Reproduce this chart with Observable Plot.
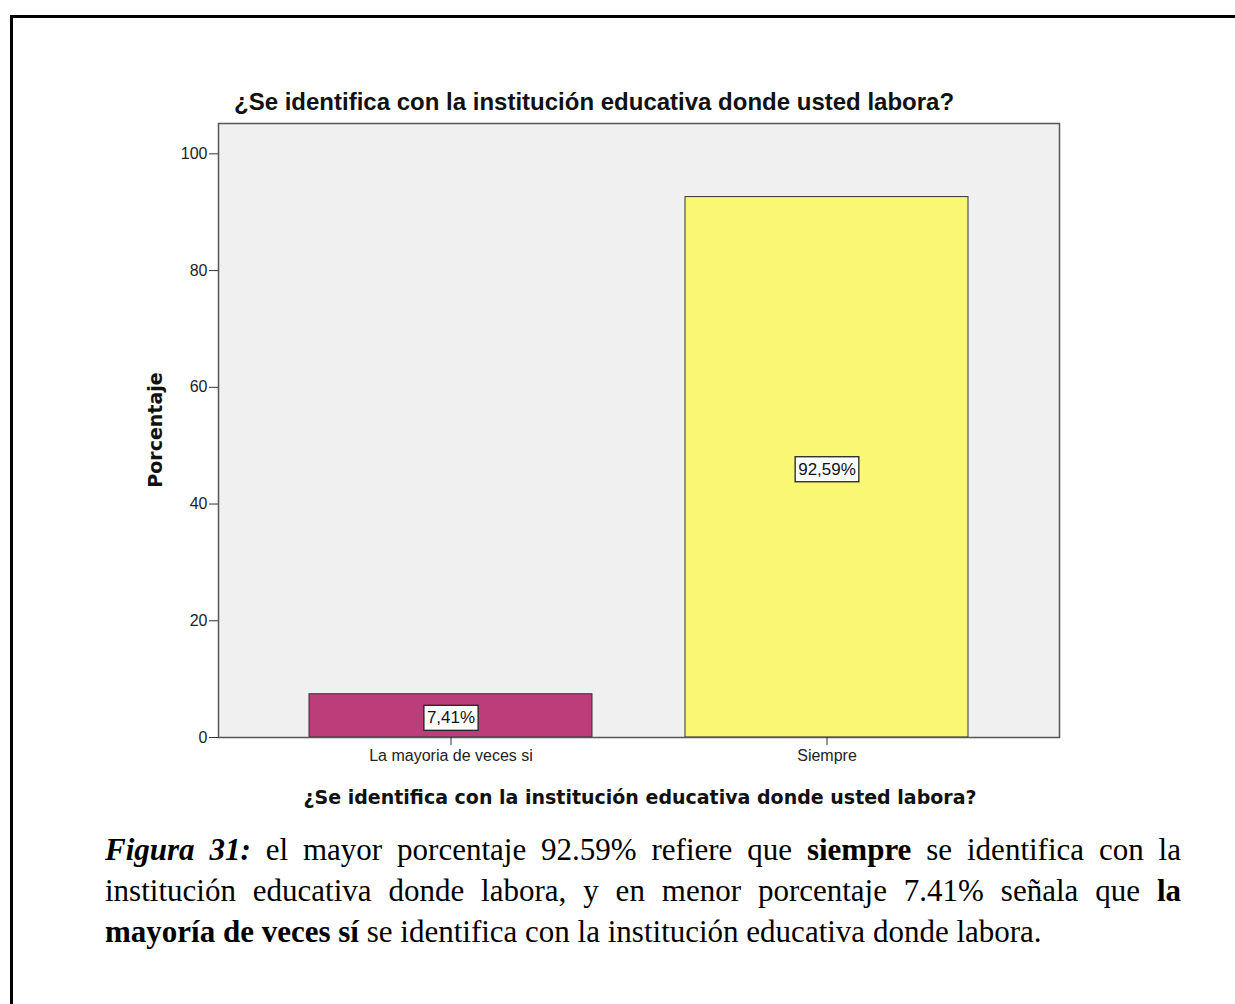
<!DOCTYPE html>
<html>
<head>
<meta charset="utf-8">
<script src="https://cdn.jsdelivr.net/npm/d3@7"></script>
<script src="https://cdn.jsdelivr.net/npm/@observablehq/plot@0.6"></script>
<style>
  body { margin: 0; background: #fff; }
  #page { position: relative; width: 1235px; height: 1004px; overflow: hidden; }
  #border { position: absolute; left: 10px; top: 15px; width: 1300px; height: 1100px;
            border-left: 3px solid #000; border-top: 3px solid #000; }
  #title { position: absolute; left: 234px; top: 88px; font: bold 24px "Liberation Sans", Arial, sans-serif;
           color: #111; white-space: nowrap; }
  #chart { position: absolute; left: 0; top: 100px; }
  #ylabel { position: absolute; left: 155px; top: 430px; transform: translate(-50%, -50%) rotate(-90deg);
            font: bold 19px "DejaVu Sans", sans-serif; color: #111; white-space: nowrap; }
  #xlabel { position: absolute; left: 640px; top: 797px; transform: translate(-50%, -50%);
            font: bold 19px "DejaVu Sans", sans-serif; color: #111; white-space: nowrap; }
  #caption { position: absolute; left: 105px; top: 829px; width: 1076px;
             font: 31px "Liberation Serif", "Times New Roman", serif; line-height: 41px; color: #000; }
  #caption .j { text-align: justify; text-align-last: justify; white-space: nowrap; }
  #caption .l { white-space: nowrap; }
</style>
</head>
<body>
<div id="page">
  <div id="border"></div>
  <div id="title"></div>
  <div id="chart"></div>
  <div id="ylabel">Porcentaje</div>
  <div id="xlabel"></div>
  <div id="caption">
    <div class="j"><b><i>Figura 31:</i></b> el mayor porcentaje 92.59% refiere que <b>siempre</b> se identifica con la</div>
    <div class="j">institución educativa donde labora, y en menor porcentaje 7.41% señala que <b>la</b></div>
    <div class="l"><b>mayoría de veces sí</b> se identifica con la institución educativa donde labora.</div>
  </div>
</div>
<script>
// Response categories and their percentages
const categories = ["La mayoria de veces si", "Siempre"];
const percentages = [7.41, 92.59];
const barColors = ["#bb3e7a", "#f9f774"];
const yTicks = [0, 20, 40, 60, 80, 100];
const question = "¿Se identifica con la institución educativa donde usted labora?";

const rows = categories.map((c, i) => ({category: c, pct: percentages[i], color: barColors[i]}));
const fmt = v => v.toFixed(2).replace(".", ",") + "%";

document.getElementById("title").textContent = question;
document.getElementById("xlabel").textContent = question;

const chart = Plot.plot({
  width: 1235,
  height: 717,
  marginLeft: 218,
  marginRight: 176,
  marginTop: 23,
  marginBottom: 80,
  style: {fontFamily: "'Liberation Sans', Arial, sans-serif", color: "#222", background: "transparent"},
  x: {domain: categories, paddingInner: 0.247, paddingOuter: 0.239, label: null},
  y: {domain: [0, 105.2], label: null},
  marks: [
    Plot.frame({fill: "#f0f0f0", stroke: "none"}),
    Plot.barY(rows, {x: "category", y: "pct", fill: "color", stroke: "#333", strokeWidth: 1}),
    Plot.frame({stroke: "#555", strokeWidth: 1.5}),
    Plot.axisY({ticks: yTicks, tickSize: 9, tickPadding: 2, fontSize: 16, label: null, stroke: "#333"}),
    Plot.axisX({tickSize: 8, tickPadding: 4, fontSize: 16, label: null, stroke: "#333"}),
    Plot.text(rows, {x: "category", y: d => d.pct / 2, text: d => fmt(d.pct), fontSize: 17,
                     fill: "#111", dy: 2, className: "barlabel"})
  ]
});
document.getElementById("chart").appendChild(chart);

// White boxes with a dark outline behind the value labels
chart.querySelectorAll(".barlabel text").forEach(t => {
  const b = t.getBBox();
  const r = document.createElementNS("http://www.w3.org/2000/svg", "rect");
  r.setAttribute("x", b.x - 3);
  r.setAttribute("y", b.y - 3);
  r.setAttribute("width", b.width + 6);
  r.setAttribute("height", b.height + 6);
  r.setAttribute("fill", "#fff");
  r.setAttribute("stroke", "#222");
  r.setAttribute("stroke-width", 1.3);
  const tr = t.getAttribute("transform");
  if (tr) r.setAttribute("transform", tr);
  t.parentNode.insertBefore(r, t);
});
</script>
</body>
</html>
